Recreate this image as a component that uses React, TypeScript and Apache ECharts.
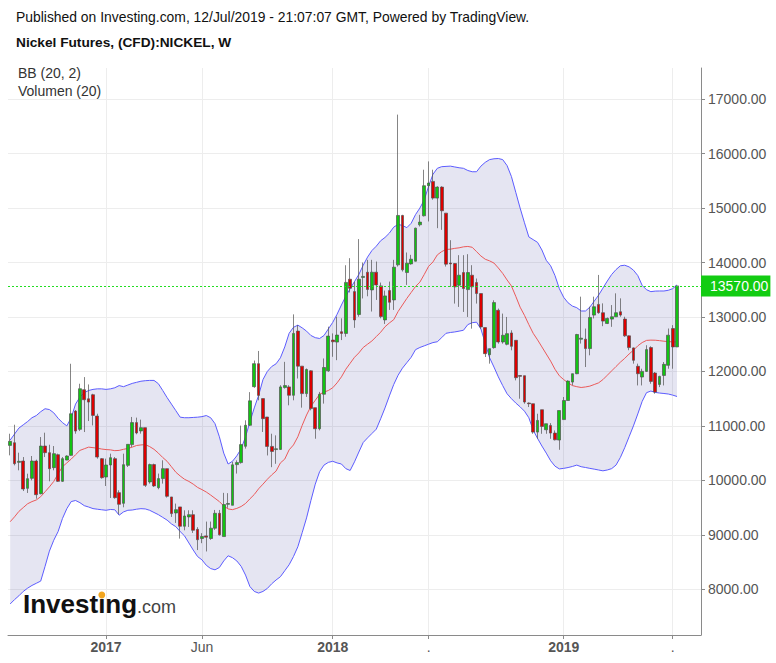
import React, { useEffect, useRef } from "react";
import * as echarts from "echarts";

// Weekly Nickel CFD candles
const opens = [
  10642, 10691, 10330, 10355, 9853, 10037, 10355, 9755, 10630, 10508,
  10233, 10471, 9982, 10373, 10459, 11272, 10936, 11664, 11498, 11572,
  11180, 10398, 10061, 10282, 10398, 9774, 9578, 10275, 10656, 11060,
  10907, 10968, 9971, 10289, 9866, 10032, 10215, 9695, 9401, 9512,
  9157, 9328, 9370, 9100, 8932, 8980, 8932, 9121, 9395, 8968,
  9560, 9542, 10289, 10326, 10625, 11011, 11720, 12143, 11501, 11163,
  10623, 10565, 10568, 11704, 11716, 11562, 12741, 12097, 11593, 12011,
  11335, 10948, 11581, 12011, 12576, 12539, 12729, 12698, 13693, 13466,
  13045, 13727, 13822, 13497, 13822, 13571, 12946, 13485, 13313, 13957,
  14864, 13816, 13975, 14024, 14693, 14858, 15410, 15490, 15183, 15385,
  14907, 13990, 13982, 13583, 13816, 13503, 13767, 13632, 13430, 12805,
  12308, 12437, 13123, 12541, 12498, 12707, 12572, 11925, 11922, 11420,
  11407, 10886, 11297, 10929, 11008, 10868, 10740, 11116, 11466, 11804,
  11958, 12592, 12592, 12420, 13034, 13231, 13078, 12881, 12961, 13004,
  13096, 12961, 12653, 12432, 12094, 11897, 12001, 12438, 11971, 11761,
  11927, 12112, 12788, 12450,
];
const closes = [
  10716, 10306, 10350, 9841, 10031, 10355, 9737, 10630, 10508, 10214,
  10490, 9982, 10398, 10447, 11223, 10905, 11682, 11480, 11437, 11193,
  10428, 10049, 10282, 10416, 9682, 9560, 10288, 10661, 11060, 10870,
  10968, 9909, 10289, 9897, 10032, 10215, 9707, 9389, 9462, 9157,
  9346, 9370, 9083, 8910, 8968, 8956, 9121, 9395, 8999, 9555,
  9575, 10285, 10326, 10656, 11011, 11460, 12143, 11560, 11133, 10623,
  10531, 10580, 11716, 11740, 11562, 12698, 12097, 11593, 12035, 11317,
  10948, 11581, 12072, 12649, 12545, 12668, 12698, 13635, 13527, 12945,
  13693, 13745, 13505, 13822, 13589, 13007, 13387, 13270, 13914, 14864,
  13865, 13988, 14061, 14631, 14742, 15410, 15459, 15183, 15385, 14950,
  13970, 13975, 13553, 13767, 13522, 13816, 13553, 13430, 12817, 12326,
  12418, 13264, 12541, 12664, 12694, 12461, 11885, 11910, 11438, 11407,
  10886, 11100, 10990, 11040, 10868, 10745, 11282, 11466, 11823, 11958,
  12678, 12611, 12420, 12991, 13188, 13078, 12924, 12973, 13004, 13078,
  13034, 12653, 12438, 12204, 11958, 12001, 12401, 11817, 11620, 11909,
  12130, 12665, 12450, 13570,
];
const lows = [
  10459, 10275, 10184, 9804, 9768, 10000, 9663, 9743, 10428, 9982,
  10184, 9970, 9970, 10370, 10450, 10856, 10905, 10887, 11089, 11009,
  10398, 10031, 9896, 9676, 9663, 9376, 9505, 10245, 10613, 10846,
  10858, 9879, 9940, 9879, 9836, 9940, 9683, 9328, 9218, 8930,
  9083, 9144, 9034, 8720, 8846, 8694, 8907, 9090, 8987, 8968,
  9495, 9542, 10124, 10307, 10583, 11000, 11700, 11470, 10888, 10457,
  10242, 10304, 10560, 11685, 11378, 11470, 11870, 11335, 11532, 11286,
  10764, 10918, 11409, 11992, 12269, 12207, 12576, 12637, 13450, 12800,
  13005, 13340, 13380, 13100, 13313, 12976, 12872, 13130, 13130, 13926,
  13834, 13589, 13960, 14018, 14662, 14846, 14754, 15153, 14631, 14600,
  13926, 13552, 13246, 13185, 13093, 13000, 12786, 13246, 12786, 12265,
  12143, 12418, 12510, 12510, 12480, 12388, 11836, 11499, 11407, 11346,
  10855, 10763, 10855, 10855, 10763, 10733, 10561, 11116, 11466, 11744,
  11950, 12512, 12081, 12296, 12973, 13060, 12831, 12870, 12819, 13000,
  13004, 12635, 12389, 12143, 11743, 11743, 11990, 11774, 11590, 11712,
  11743, 12050, 12050, 12450,
];
const highs = [
  10856, 11021, 10508, 10428, 10122, 10447, 10380, 10795, 10875, 10654,
  10630, 10490, 10428, 10460, 12141, 11290, 11774, 11896, 11761, 11590,
  11223, 10410, 10398, 10490, 10428, 9817, 10490, 10661, 11164, 11152,
  11115, 10968, 10307, 10307, 10124, 10368, 10215, 9695, 9573, 9512,
  9450, 9450, 9450, 9140, 9030, 9243, 9243, 9456, 9456, 9770,
  9765, 10340, 10368, 11005, 11103, 11620, 12200, 12376, 11501, 11163,
  10856, 10826, 11747, 12176, 11747, 13048, 12852, 12097, 12054, 12023,
  11335, 11624, 12238, 12821, 12698, 13005, 12975, 13950, 14080, 13650,
  14430, 14000, 14049, 14049, 14018, 13632, 13485, 13650, 14049, 16716,
  14876, 14184, 14141, 14640, 14876, 15704, 15857, 15704, 15400, 15400,
  14907, 14410, 13990, 14135, 14135, 14153, 13951, 13706, 13430, 12805,
  12418, 13307, 13154, 13062, 13000, 12756, 12572, 11930, 11922, 11430,
  11407, 11223, 11297, 11040, 11051, 10917, 11282, 11530, 11836, 11960,
  12690, 13373, 12788, 13188, 13373, 13772, 13250, 12990, 13219, 13434,
  13342, 13004, 12660, 12440, 12143, 12050, 12481, 12462, 11989, 11920,
  12173, 12788, 12850, 13570,
];

// Bollinger Bands (20, 2)
const bbUpper = [
  10740, 10850, 10960, 11020, 11080, 11150, 11190, 11260, 11315, 11300,
  11240, 11140, 11060, 11000, 11150, 11400, 11530, 11610, 11650, 11670,
  11680, 11680, 11670, 11680, 11700, 11740, 11720, 11750, 11780, 11800,
  11820, 11830, 11835, 11835, 11775, 11650, 11520, 11400, 11280, 11160,
  11150, 11150, 11155, 11160, 11170, 11190, 11150, 11040, 10800, 10500,
  10300, 10350, 10450, 10580, 10800, 11070, 11330, 11560, 11850, 12000,
  12090, 12140, 12250, 12450, 12700, 12810, 12850, 12800, 12740, 12660,
  12620, 12605, 12660, 12780, 12900, 13050, 13220, 13380, 13520, 13650,
  13780, 13950, 14100, 14220, 14300, 14400, 14460, 14540, 14650, 14700,
  14680, 14640, 14720, 14880, 15000, 15150, 15400, 15620, 15730, 15760,
  15765, 15770, 15755, 15740, 15730, 15690, 15667, 15667, 15770, 15840,
  15890, 15905, 15910, 15890, 15780, 15580, 15290, 15000, 14730, 14470,
  14420, 14370, 14230, 14040, 13940, 13760, 13520, 13360, 13260, 13200,
  13170, 13110, 13110, 13180, 13290, 13400, 13530, 13660, 13780, 13870,
  13940, 13950, 13920, 13860, 13760, 13580, 13500, 13465, 13475, 13477,
  13477, 13490, 13520, 13590,
];
const bbMiddle = [
  9240, 9330, 9430, 9500, 9570, 9610, 9640, 9700, 9790, 9880,
  9980, 10120, 10250, 10320, 10390, 10470, 10550, 10580, 10610, 10600,
  10590, 10575, 10565, 10560, 10545, 10550, 10570, 10585, 10610, 10640,
  10650, 10656, 10620, 10570, 10500, 10420, 10350, 10250, 10150, 10080,
  10020, 9980, 9930, 9870, 9830, 9785, 9730, 9670, 9610, 9530,
  9475, 9462, 9485, 9520, 9575, 9660, 9740, 9845, 9930, 10020,
  10100, 10170, 10320, 10390, 10560, 10650, 10800, 11010, 11200, 11360,
  11470, 11580, 11620, 11650, 11700, 11790, 11900, 12040, 12150, 12260,
  12340, 12440, 12500, 12560, 12640, 12720, 12820, 12890, 12950, 13100,
  13220, 13340, 13450, 13560, 13640, 13780, 13930, 14010, 14140, 14200,
  14240, 14245, 14260, 14270, 14288, 14295, 14280, 14200, 14120, 14060,
  14030, 13990, 13900, 13800, 13680, 13570, 13380, 13180, 13030, 12860,
  12700, 12580, 12450, 12320, 12190, 12040, 11920, 11850, 11790, 11740,
  11720, 11705, 11715, 11730, 11760, 11790, 11850, 11930, 12010, 12090,
  12170, 12240, 12320, 12390, 12470, 12530, 12570, 12575, 12573, 12565,
  12555, 12548, 12542, 12542,
];
const bbLower = [
  7730, 7810, 7880, 7960, 8020, 8070, 8110, 8150, 8420, 8700,
  8900, 9060, 9300, 9480, 9610, 9630, 9590, 9535, 9510, 9481,
  9470, 9460, 9450, 9465, 9460, 9360, 9420, 9450, 9455, 9470,
  9480, 9475, 9450, 9410, 9370, 9320, 9270, 9200, 9150, 9060,
  8980, 8850, 8720, 8600, 8540, 8440, 8380, 8357, 8400, 8520,
  8615, 8580, 8520, 8420, 8260, 8050, 7960, 7930, 7960, 8015,
  8100, 8170, 8230, 8340, 8450, 8600, 8780, 9040, 9310, 9630,
  9930, 10160, 10280, 10330, 10350, 10320, 10300, 10215, 10181, 10340,
  10520, 10695, 10780, 10860, 10940, 11130, 11330, 11550, 11760, 11930,
  12060, 12160, 12260, 12400, 12440, 12470, 12500, 12530, 12545, 12620,
  12700, 12715, 12725, 12740, 12756, 12860, 12895, 12905, 12780, 12520,
  12250, 12080, 11900, 11740, 11590, 11500, 11420, 11350, 11270, 11150,
  10920, 10770, 10630, 10500, 10360, 10260, 10210, 10220, 10235, 10255,
  10280, 10250, 10236, 10220, 10206, 10190, 10175, 10190, 10215, 10280,
  10420, 10600, 10800, 11000, 11220, 11450, 11610, 11640, 11615, 11603,
  11595, 11585, 11565, 11540,
];

const rightEmptyBars = 5;
const xTickIndices = [22, 44, 74, 96, 127, 152];
const xTickLabels = ["2017", "Jun", "2018", ".", "2019", "."];
const xTickBold = [true, false, true, false, true, false];
const yTickValues = [8000, 9000, 10000, 11000, 12000, 13000, 14000, 15000, 16000, 17000];
const yMin = 7160;
const yMax = 17572;
const lastPrice = 13570;

const headerLine = "Published on Investing.com, 12/Jul/2019 - 21:07:07 GMT, Powered by TradingView.";
const titleLine = "Nickel Futures, (CFD):NICKEL, W";
const legendLines = ["BB (20, 2)", "Volumen (20)"];

const FONT = "'Liberation Sans', Arial, Helvetica, sans-serif";
const BAND_BLUE = "#5c5cff";
const BAND_FILL = "rgba(40, 40, 150, 0.12)";
const MID_RED = "#eb5a5a";
const UP_GREEN = "#12c412";
const DOWN_RED = "#dd0000";

export default function App() {
  const ref = useRef<HTMLDivElement>(null);

  useEffect(() => {
    const el = ref.current;
    if (!el) return;
    const chart = echarts.init(el, undefined, { renderer: "svg" });

    const barCount = opens.length + rightEmptyBars;
    const categories = Array.from({ length: barCount }, (_, i) => String(i));
    const candleData = opens.map((o, i) => [o, closes[i], lows[i], highs[i]]);
    const bandSpan = bbUpper.map((u, i) => u - bbLower[i]);

    const option: any = {
      animation: false,
      backgroundColor: "#ffffff",
      textStyle: { fontFamily: FONT },
      grid: {
        left: 8,
        right: 75,
        top: 68,
        bottom: 28,
        containLabel: false,
        outerBoundsMode: "none",
      },
      xAxis: [
        {
          type: "category",
          data: categories,
          boundaryGap: true,
          show: false,
          position: "bottom",
          gridIndex: 0,
        },
        {
          type: "value",
          gridIndex: 0,
          position: "bottom",
          min: -0.5,
          max: barCount - 0.5,
          axisLine: { show: true, onZero: false, lineStyle: { color: "#8a8a8a", width: 1 } },
          axisTick: {
            show: true,
            length: 4,
            customValues: xTickIndices,
            lineStyle: { color: "#8a8a8a" },
          },
          axisLabel: {
            show: true,
            customValues: xTickIndices,
            margin: 5,
            formatter: (v: number) => {
              const k = xTickIndices.indexOf(Math.round(v));
              if (k < 0) return "";
              return xTickBold[k] ? `{b|${xTickLabels[k]}}` : `{n|${xTickLabels[k]}}`;
            },
            rich: {
              b: { fontWeight: "bold", fontSize: 14, color: "#555555", fontFamily: FONT },
              n: { fontSize: 14, color: "#555555", fontFamily: FONT },
            },
          },
          splitLine: { show: true, lineStyle: { color: "#ededed", width: 1 } },
        },
      ],
      yAxis: {
        type: "value",
        position: "right",
        min: yMin,
        max: yMax,
        axisLine: { show: true, onZero: false, lineStyle: { color: "#8a8a8a", width: 1 } },
        axisTick: {
          show: true,
          length: 4,
          customValues: yTickValues,
          lineStyle: { color: "#8a8a8a" },
        },
        axisLabel: {
          show: true,
          customValues: yTickValues,
          margin: 7,
          color: "#555555",
          fontSize: 14,
          fontFamily: FONT,
          formatter: (v: number) => v.toFixed(2),
        },
        splitLine: { show: true, lineStyle: { color: "#ededed", width: 1 } },
      },
      series: [
        {
          name: "BB lower",
          type: "line",
          xAxisIndex: 0,
          data: bbLower,
          stack: "bb",
          symbol: "none",
          silent: true,
          z: 2,
          lineStyle: { color: BAND_BLUE, width: 1 },
        },
        {
          name: "BB upper",
          type: "line",
          xAxisIndex: 0,
          data: bandSpan,
          stack: "bb",
          symbol: "none",
          silent: true,
          z: 1,
          lineStyle: { color: BAND_BLUE, width: 1 },
          areaStyle: { color: BAND_FILL, opacity: 1 },
        },
        {
          name: "BB basis",
          type: "line",
          xAxisIndex: 0,
          data: bbMiddle,
          symbol: "none",
          silent: true,
          z: 2,
          lineStyle: { color: MID_RED, width: 1 },
        },
        {
          name: "Nickel",
          type: "candlestick",
          xAxisIndex: 0,
          data: candleData,
          barWidth: 3.2,
          z: 3,
          itemStyle: {
            color: UP_GREEN,
            color0: DOWN_RED,
            borderColor: "#505050",
            borderColor0: "#505050",
            borderWidth: 0.7,
          },
          markLine: {
            silent: true,
            symbol: ["none", "none"],
            lineStyle: { color: "#22dd22", width: 1, type: [2, 2] },
            label: {
              show: true,
              position: "end",
              distance: 0,
              formatter: () => lastPrice.toFixed(2),
              color: "#ffffff",
              fontSize: 14,
              fontFamily: FONT,
              backgroundColor: "#12cc12",
              padding: [3, 2, 3, 9],
              lineHeight: 15,
            },
            data: [{ yAxis: lastPrice }],
          },
        },
      ],
      graphic: [
        {
          type: "text",
          x: 16,
          y: 17,
          style: { text: headerLine, fontSize: 13.9, fontFamily: FONT, fill: "#111111", verticalAlign: "middle" },
        },
        {
          type: "text",
          x: 16,
          y: 42,
          style: {
            text: titleLine,
            fontSize: 13.7,
            fontWeight: "bold",
            fontFamily: FONT,
            fill: "#111111",
            verticalAlign: "middle",
          },
        },
        {
          type: "text",
          x: 18,
          y: 73,
          style: { text: legendLines[0], fontSize: 14, fontFamily: FONT, fill: "#333333", verticalAlign: "middle" },
        },
        {
          type: "text",
          x: 18,
          y: 91,
          style: { text: legendLines[1], fontSize: 14, fontFamily: FONT, fill: "#333333", verticalAlign: "middle" },
        },
        {
          type: "text",
          x: 23,
          y: 603.5,
          z: 100,
          style: {
            text: "Investing",
            fontSize: 26,
            fontWeight: "bold",
            fontFamily: FONT,
            fill: "#111111",
            verticalAlign: "middle",
          },
        },
        {
          type: "ellipse",
          z: 101,
          shape: { cx: 101.8, cy: 595, rx: 3.4, ry: 3.4 },
          style: { fill: "#f2a51f" },
        },
        {
          type: "text",
          x: 137,
          y: 606.5,
          z: 100,
          style: { text: ".com", fontSize: 18, fontFamily: FONT, fill: "#444444", verticalAlign: "middle" },
        },
      ],
    };

    chart.setOption(option);
    return () => {
      chart.dispose();
    };
  }, []);

  return (
    <div
      ref={ref}
      style={{ position: "fixed", left: 0, top: 0, width: 776, height: 663, background: "#ffffff" }}
    />
  );
}
